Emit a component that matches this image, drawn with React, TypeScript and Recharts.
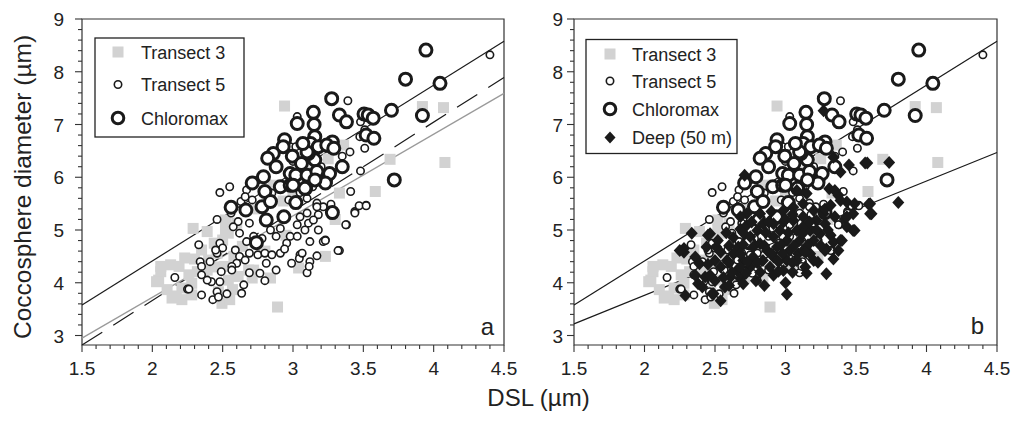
import React from 'react';
import { ScatterChart, Scatter, XAxis, YAxis, ReferenceArea } from 'recharts';

const FONT = '"Liberation Sans", Arial, Helvetica, sans-serif';
const INK = '#1a1a1a';

const xMajor = [1.5, 2, 2.5, 3, 3.5, 4, 4.5];
const yMajor = [3, 4, 5, 6, 7, 8, 9];
const xDomain: [number, number] = [1.5, 4.5];
const yDomain: [number, number] = [2.82, 9];

// Transect 3 (grey squares)
const transect3: [number, number][] = [
  [3.92, 7.34], [4.07, 7.32], [2.94, 7.35], [3.69, 6.34], [4.08, 6.28], [3.585, 5.73], [3.33, 5.7], [3.36, 6.61],
  [2.89, 3.54], [3.23, 4.5], [3.04, 4.28], [2.84, 4.09], [2.72, 4.24], [2.29, 5.03], [2.39, 4.97], [2.5, 4.81],
  [2.44, 4.75], [2.35, 4.62], [2.23, 4.47], [2.19, 4.31], [2.13, 4.34], [2.06, 4.21], [2.045, 4.05], [2.105, 3.87],
  [2.14, 3.71], [2.21, 3.68], [2.28, 3.77], [2.21, 3.9], [2.28, 3.99], [2.26, 4.15], [2.32, 4.21], [2.39, 4.24],
  [2.4, 4.43], [2.46, 4.56], [2.51, 4.31], [2.54, 4.05], [2.495, 3.61], [2.55, 3.68], [2.47, 3.83], [2.57, 3.87],
  [2.61, 4.12], [2.685, 4.24], [2.71, 4.09], [2.58, 4.5], [2.64, 4.69], [2.54, 4.94], [2.6, 5.13], [2.52, 5.19],
  [2.03, 4.02], [2.06, 4.31], [2.52, 5.0], [2.93, 5.55], [2.86, 5.85], [3.0, 5.65], [2.17, 3.75], [2.3, 4.45],
  [2.45, 4.3], [2.75, 5.4], [3.1, 6.1], [3.25, 6.35], [3.3, 5.2], [2.95, 4.9], [2.8, 4.6],
];

// Transect 5 (small open circles)
const transect5: [number, number][] = [
  [4.4, 8.32], [3.39, 7.45], [3.03, 7.15], [3.48, 7.05], [3.51, 6.9], [3.475, 6.77], [3.51, 6.55], [3.405, 6.48],
  [3.48, 6.12], [3.41, 5.73], [3.52, 5.47], [3.44, 5.35], [3.38, 5.1], [3.33, 4.61], [3.23, 4.81], [2.98, 6.58],
  [3.02, 6.58], [2.16, 4.1], [2.25, 3.88],
  [2.48, 5.71], [2.55, 5.82], [2.67, 5.76], [2.46, 5.2], [2.56, 5.32], [2.61, 5.16], [2.575, 5.06], [2.69, 5.13],
  [2.63, 5.54], [2.66, 5.63], [2.71, 5.57], [2.62, 4.94], [2.72, 4.88], [2.67, 4.78], [2.78, 4.84], [2.84, 5.0],
  [2.88, 4.88], [2.91, 5.03], [2.98, 4.88], [3.03, 5.1], [3.085, 5.0], [3.12, 4.78], [3.03, 4.88], [2.955, 4.75],
  [3.05, 5.25], [3.1, 5.32], [3.11, 5.13], [3.17, 5.47], [3.18, 5.29], [3.145, 5.19], [3.215, 5.44], [3.18, 5.0],
  [3.215, 4.78], [3.32, 4.61], [3.375, 5.1], [3.44, 5.32], [3.47, 5.46], [3.52, 5.46],
  [2.48, 4.75], [2.5, 4.66], [2.46, 4.56], [2.33, 4.72], [2.59, 4.62], [2.62, 4.5], [2.66, 4.43], [2.6, 4.37],
  [2.565, 4.31], [2.69, 4.56], [2.75, 4.53], [2.8, 4.56], [2.85, 4.53], [2.91, 4.56], [2.94, 4.64], [2.81, 4.37],
  [2.765, 4.18], [2.69, 4.19], [2.8, 4.04], [2.88, 4.24], [2.99, 4.37], [3.05, 4.53], [3.12, 4.4], [3.17, 4.51],
  [2.41, 4.4], [2.34, 4.4], [2.35, 4.31], [2.35, 4.15], [2.42, 4.02], [2.48, 4.02], [2.49, 4.21], [2.565, 4.24],
  [2.26, 3.88], [2.35, 3.77], [2.46, 3.83], [2.43, 3.68], [2.47, 3.73], [2.53, 3.79], [2.635, 3.8], [2.65, 3.96],
  [3.1, 4.19], [3.23, 4.8], [3.115, 4.31], [3.045, 4.46], [3.065, 4.56], [2.39, 4.05], [2.45, 4.62],
  [3.17, 5.51], [3.1, 5.6], [3.14, 5.82], [3.235, 5.87], [3.05, 5.71], [2.97, 5.57], [3.27, 5.49], [3.17, 5.44],
  [3.26, 6.0], [3.2, 6.2], [3.35, 6.4], [3.0, 6.3], [2.75, 5.95], [2.85, 5.7],
];

// Chloromax (large open circles)
const chloromax: [number, number][] = [
  [3.945, 8.41], [3.8, 7.86], [4.045, 7.78], [3.7, 7.27], [3.92, 7.17], [3.275, 7.49], [3.145, 7.23], [3.03, 7.02],
  [3.15, 7.0], [3.33, 7.18], [3.38, 7.05], [3.505, 7.2], [3.535, 7.18], [3.57, 7.12], [3.52, 6.8], [3.575, 6.74],
  [3.155, 6.77], [3.125, 6.64], [3.18, 6.58], [3.275, 6.58], [3.28, 6.67], [2.94, 6.71], [2.93, 6.58], [2.86, 6.45],
  [2.82, 6.36], [2.995, 6.4], [3.06, 6.26], [3.155, 6.33], [3.11, 6.45], [2.88, 6.2], [2.98, 6.07], [3.02, 6.04],
  [3.1, 6.04], [2.79, 6.01], [2.91, 5.82], [2.71, 5.89], [2.8, 5.73], [2.98, 5.85], [3.09, 5.79], [3.23, 5.92],
  [3.26, 6.07], [3.35, 6.2], [3.72, 5.95], [2.56, 5.43], [2.665, 5.38], [2.78, 5.44], [2.84, 5.54], [2.935, 5.25],
  [3.02, 5.52], [3.28, 5.33], [2.81, 5.19], [2.74, 4.76], [3.17, 6.11], [3.1, 6.48], [3.07, 6.64], [3.24, 6.61],
  [3.29, 6.55], [3.23, 5.89], [3.156, 5.95], [3.0, 5.85], [3.085, 5.79],
];

// Deep (50 m) (black diamonds) - panel b only
const deep: [number, number][] = [
  [3.27, 7.26], [3.565, 6.27], [3.735, 6.28], [3.8, 5.52], [3.59, 5.49], [3.61, 5.31], [3.45, 6.23], [3.39, 6.1],
  [3.34, 6.38], [3.31, 5.78], [3.375, 5.66], [3.435, 5.53], [3.49, 5.5], [3.48, 5.31], [3.42, 5.21], [3.435, 5.06],
  [3.49, 4.99], [3.39, 4.8], [3.29, 4.64], [3.34, 4.45], [3.29, 4.17], [3.23, 4.39], [3.01, 3.78], [3.14, 4.3],
  [3.09, 4.55], [2.915, 4.14], [2.79, 4.04], [2.335, 4.94], [2.28, 4.58], [2.29, 3.76], [2.38, 3.98], [2.43, 4.11],
  [2.465, 4.93], [2.54, 3.66], [2.49, 3.79], [2.71, 6.04],
  [2.45, 4.9], [2.28, 4.65], [2.36, 4.49], [2.44, 4.68], [2.51, 4.68], [2.39, 4.36], [2.36, 4.14], [2.41, 3.92],
  [2.5, 4.04], [2.48, 3.79], [2.57, 3.92], [2.61, 4.11], [2.655, 4.23], [2.54, 4.3], [2.585, 4.42], [2.5, 4.42],
  [2.54, 4.58], [2.665, 4.68], [2.63, 4.86], [2.68, 5.02], [2.725, 5.09], [2.63, 4.55], [2.7, 4.42], [2.68, 4.3],
  [2.75, 4.3], [2.77, 4.49], [2.77, 4.68], [2.75, 4.87], [2.8, 4.99], [2.84, 5.12], [2.82, 4.74], [2.87, 4.61],
  [2.84, 4.42], [2.89, 4.3], [2.915, 4.49], [2.94, 4.68], [2.915, 4.87], [2.96, 4.99], [2.915, 5.12], [2.985, 5.15],
  [3.01, 4.8], [3.03, 4.61], [3.01, 4.42], [2.985, 4.23], [3.08, 4.42], [3.125, 4.61], [3.1, 4.8], [3.08, 4.99],
  [3.055, 5.18], [3.125, 5.25], [3.175, 4.99], [3.2, 4.8], [3.175, 4.55], [3.22, 5.18], [3.245, 4.93], [3.28, 5.12],
  [3.27, 5.31], [3.2, 5.37], [3.125, 5.5], [3.055, 5.43], [2.985, 5.37], [2.82, 5.31], [2.725, 5.31], [2.68, 5.25],
  [3.125, 5.06], [3.32, 4.9], [3.15, 5.69], [3.08, 5.75], [3.34, 4.77], [3.28, 4.61], [3.375, 4.61], [2.465, 4.14],
  [2.25, 4.61], [2.68, 4.08], [3.28, 5.4], [3.32, 5.47], [3.39, 5.56], [3.35, 5.75], [3.435, 5.25], [3.4, 4.8],
  [3.48, 4.99], [3.58, 6.27], [3.6, 5.5], [3.6, 5.31],
  // dense core of the cloud
  [2.62, 4.2], [2.72, 4.18], [2.82, 4.2], [2.95, 4.22], [3.05, 4.2], [3.15, 4.18], [2.6, 4.38], [2.73, 4.4],
  [2.8, 4.38], [2.95, 4.4], [3.05, 4.38], [3.2, 4.42], [2.6, 4.7], [2.7, 4.72], [2.85, 4.7], [2.97, 4.72],
  [3.06, 4.7], [3.16, 4.72], [3.25, 4.7], [2.58, 4.95], [2.7, 4.95], [2.86, 4.95], [3.02, 4.95], [3.12, 4.93],
  [3.22, 5.0], [2.76, 5.15], [2.88, 5.15], [3.0, 5.2], [3.17, 5.15], [2.6, 3.95], [2.7, 3.98], [2.85, 3.95],
  [3.0, 4.0], [2.68, 4.55], [2.9, 4.55], [2.98, 4.55], [3.14, 4.58], [2.56, 4.1], [2.45, 4.35], [2.52, 4.8],
  [2.9, 5.35], [3.05, 5.3], [3.3, 5.0], [3.35, 5.25],
];

// regression lines (end points)
const fitAll: [number, number][] = [[1.5, 3.58], [4.5, 8.58]];
const fitT3: [number, number][] = [[1.5, 2.95], [4.5, 7.59]];
const fitT5: [number, number][] = [[1.5, 2.82], [4.5, 7.89]];
const fitDeep: [number, number][] = [[1.5, 3.22], [4.5, 6.47]];

const toPts = (a: [number, number][]) => a.map(([x, y]) => ({ x, y }));

const xTicks: number[] = [];
for (let i = 0; i <= 30; i++) xTicks.push(Math.round((1.5 + i * 0.1) * 10) / 10);
const yTicks: number[] = [];
for (let i = 0; i <= 30; i++) yTicks.push(Math.round((3 + i * 0.2) * 10) / 10);

const isMajor = (v: number, list: number[]) => list.some((m) => Math.abs(m - v) < 1e-6);

const Square = (p: any) => <rect x={p.cx - 5.5} y={p.cy - 5.5} width={11} height={11} fill="#d2d2d2" />;
const SmallCircle = (p: any) => <circle cx={p.cx} cy={p.cy} r={3.7} fill="#fff" stroke={INK} strokeWidth={1.6} />;
const BigCircle = (p: any) => <circle cx={p.cx} cy={p.cy} r={6} fill="#fff" stroke={INK} strokeWidth={3} />;
const Diamond = (p: any) => (
  <path d={`M${p.cx},${p.cy - 6.5}L${p.cx + 6},${p.cy}L${p.cx},${p.cy + 6.5}L${p.cx - 6},${p.cy}Z`} fill={INK} />
);
const NoShape = () => <g />;

const XTick = (props: any) => {
  const { x, y, payload } = props;
  const major = isMajor(payload.value, xMajor);
  return (
    <g>
      <line x1={x} x2={x} y1={y} y2={y + (major ? 7 : 4)} stroke="#333" strokeWidth={1.1} />
      {major && (
        <text x={x} y={y + 30} textAnchor="middle" fontSize={19} fontFamily={FONT} fill="#222">
          {String(payload.value)}
        </text>
      )}
    </g>
  );
};

const makeYTick = (gap: number) => (props: any) => {
  const { x, y, payload } = props;
  const major = isMajor(payload.value, yMajor);
  return (
    <g>
      <line x1={x} x2={x - (major ? 7 : 4)} y1={y} y2={y} stroke="#333" strokeWidth={1.1} />
      {major && (
        <text x={x - gap} y={y + 7} textAnchor="end" fontSize={19} fontFamily={FONT} fill="#222">
          {String(payload.value)}
        </text>
      )}
    </g>
  );
};

interface PanelProps {
  width: number;
  margin: { top: number; right: number; bottom: number; left: number };
  yAxisWidth: number;
  labelGap: number;
  b: boolean;
}

function Panel({ width, margin, yAxisWidth, labelGap, b }: PanelProps) {
  const lineStyle = { stroke: INK, strokeWidth: 1.2 };
  return (
    <ScatterChart width={width} height={425} margin={margin}>
      <XAxis
        type="number"
        dataKey="x"
        domain={xDomain}
        ticks={xTicks}
        interval={0}
        height={80}
        axisLine={false}
        tickLine={false}
        tickSize={0}
        tickMargin={0}
        tick={XTick}
      />
      <YAxis
        type="number"
        dataKey="y"
        domain={yDomain}
        ticks={yTicks}
        interval={0}
        width={yAxisWidth}
        axisLine={false}
        tickLine={false}
        tickSize={0}
        tickMargin={0}
        allowDataOverflow
        tick={makeYTick(labelGap)}
      />
      <ReferenceArea x1={1.5} x2={4.5} y1={2.82} y2={9} fill="none" stroke="#333" strokeWidth={1.2} ifOverflow="visible" />
      <Scatter data={toPts(fitAll)} line={lineStyle} lineType="joint" shape={NoShape} isAnimationActive={false} />
      {!b && (
        <Scatter data={toPts(fitT3)} line={{ stroke: '#9a9a9a', strokeWidth: 1.3 }} lineType="joint" shape={NoShape} isAnimationActive={false} />
      )}
      {!b && (
        <Scatter data={toPts(fitT5)} line={{ ...lineStyle, strokeDasharray: '24 13' }} lineType="joint" shape={NoShape} isAnimationActive={false} />
      )}
      {b && <Scatter data={toPts(fitDeep)} line={lineStyle} lineType="joint" shape={NoShape} isAnimationActive={false} />}
      <Scatter data={toPts(transect3)} shape={Square} isAnimationActive={false} />
      <Scatter data={toPts(transect5)} shape={SmallCircle} isAnimationActive={false} />
      <Scatter data={toPts(chloromax)} shape={BigCircle} isAnimationActive={false} />
      {b && <Scatter data={toPts(deep)} shape={Diamond} isAnimationActive={false} />}
    </ScatterChart>
  );
}

function LegendBox({ x, y, w, h, rows, mx, tx }: { x: number; y: number; w: number; h: number; rows: { label: string; cy: number; kind: string }[]; mx: number; tx: number }) {
  return (
    <g>
      <rect x={x} y={y} width={w} height={h} fill="#fff" stroke="#222" strokeWidth={1.3} />
      {rows.map((r) => (
        <g key={r.label}>
          {r.kind === 'sq' && <rect x={mx - 5.5} y={r.cy - 5.5} width={11} height={11} fill="#d2d2d2" />}
          {r.kind === 'sc' && <circle cx={mx} cy={r.cy} r={3.7} fill="#fff" stroke={INK} strokeWidth={1.6} />}
          {r.kind === 'bc' && <circle cx={mx} cy={r.cy} r={5.8} fill="#fff" stroke={INK} strokeWidth={3} />}
          {r.kind === 'dm' && <path d={`M${mx},${r.cy - 6}L${mx + 5.5},${r.cy}L${mx},${r.cy + 6}L${mx - 5.5},${r.cy}Z`} fill={INK} />}
          <text x={tx} y={r.cy + 6.5} fontSize={18} fontFamily={FONT} fill="#222">
            {r.label}
          </text>
        </g>
      ))}
    </g>
  );
}

export default function App() {
  return (
    <div style={{ position: 'absolute', left: 0, top: 0, width: 1014, height: 425, background: '#fff' }}>
      <div style={{ position: 'absolute', left: 0, top: 0 }}>
        <Panel width={520} margin={{ top: 19, right: 16, bottom: 0, left: 22 }} yAxisWidth={60} labelGap={18} b={false} />
      </div>
      <div style={{ position: 'absolute', left: 520, top: 0 }}>
        <Panel width={494} margin={{ top: 19, right: 17, bottom: 0, left: 10 }} yAxisWidth={44} labelGap={11} b={true} />
      </div>
      <svg width={1014} height={425} style={{ position: 'absolute', left: 0, top: 0, pointerEvents: 'none' }}>
        <LegendBox
          x={95}
          y={38}
          w={149}
          h={99}
          mx={118}
          tx={141}
          rows={[
            { label: 'Transect 3', cy: 52, kind: 'sq' },
            { label: 'Transect 5', cy: 84.5, kind: 'sc' },
            { label: 'Chloromax', cy: 118, kind: 'bc' },
          ]}
        />
        <LegendBox
          x={586}
          y={39.5}
          w={151}
          h={114}
          mx={610}
          tx={632}
          rows={[
            { label: 'Transect 3', cy: 54, kind: 'sq' },
            { label: 'Transect 5', cy: 81, kind: 'sc' },
            { label: 'Chloromax', cy: 109, kind: 'bc' },
            { label: 'Deep (50 m)', cy: 137.5, kind: 'dm' },
          ]}
        />
        <text x={494} y={335} textAnchor="end" fontSize={24} fontFamily={FONT} fill="#222">a</text>
        <text x={984} y={334} textAnchor="end" fontSize={24} fontFamily={FONT} fill="#222">b</text>
        <text x={538.5} y={406} textAnchor="middle" fontSize={24} fontFamily={FONT} fill="#222">DSL (µm)</text>
        <text x={31} y={187} textAnchor="middle" fontSize={24.5} fontFamily={FONT} fill="#222" transform="rotate(-90 31 187)">
          Coccosphere diameter (µm)
        </text>
      </svg>
    </div>
  );
}
